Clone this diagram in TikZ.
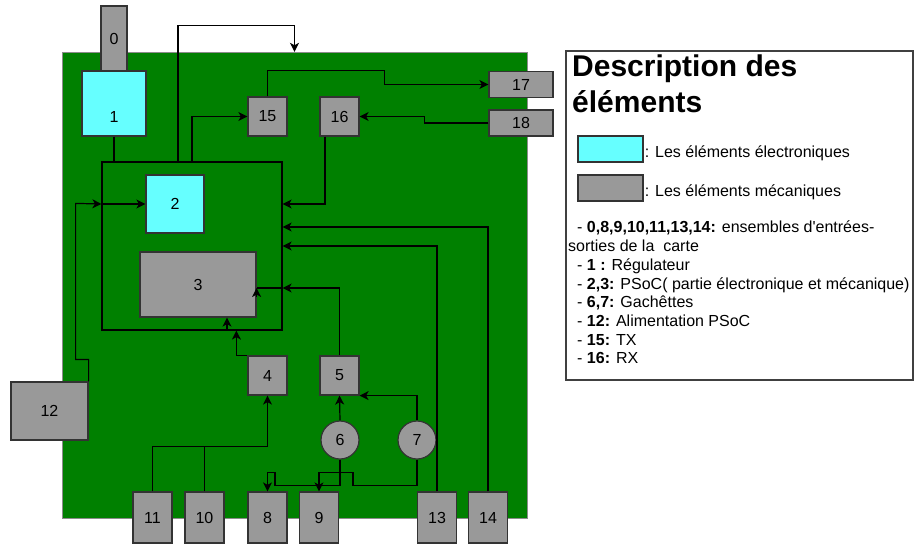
\documentclass[tikz,border=0pt]{standalone}
\usepackage{fontspec}
\setmainfont{Liberation Sans}
\usetikzlibrary{positioning,arrows.meta,shapes.geometric}
\definecolor{boardgreen}{HTML}{008000}
\definecolor{eleccyan}{HTML}{66FFFF}
\definecolor{mecagray}{HTML}{999999}
\tikzset{
  meca/.style  ={rectangle, draw=black!80, fill=mecagray, line width=1.2pt,
                 inner sep=0pt, font=\fontsize{16}{19}\selectfont},
  elec/.style  ={meca, fill=eleccyan},
  trig/.style  ={meca, circle, minimum size=38pt},
  flow/.style  ={-{Stealth[length=9pt,width=9pt,inset=2.5pt]}, line width=1.2pt},
  wire/.style  ={line width=1.2pt},
  legtxt/.style={font=\fontsize{16}{18.7}\selectfont, inner sep=0pt, align=left}
}

\begin{document}
\begin{tikzpicture}[x=1pt,y=-1pt]
\useasboundingbox (0,0) rectangle (914,544);
%% board and legend frame
\node[rectangle, draw=black!45, fill=boardgreen, minimum width=465pt,
      minimum height=466pt] (board) at (294.5,285) {};
\node[rectangle, draw=black!75, line width=1.2pt, minimum width=347pt,
      minimum height=329pt] (legend) at (739.5,215.5) {};

%% elements of the card
\node[meca, minimum width=26pt, minimum height=65pt] (b0)  at (114,38.5)    {0};
\node[elec, minimum width=64pt, minimum height=65pt, text height=38pt]
      (b1) at (114,103.5) {1};
\node[meca, minimum width=39pt, minimum height=39pt] (b15) at (267.5,116.5) {15};
\node[meca, minimum width=39pt, minimum height=39pt] (b16) at (339.5,116.5) {16};
\node[meca, minimum width=64pt, minimum height=26pt] (b17) at (521,84.5)    {17};
\node[meca, minimum width=64pt, minimum height=26pt] (b18) at (521,123)     {18};
\node[draw=black, line width=1.2pt, minimum width=180pt, minimum height=168pt]
      (psoc) at (192,246) {};
\node[elec, minimum width=58pt, minimum height=58pt] (b2)  at (175,204)     {2};
\node[meca, minimum width=116pt, minimum height=65pt] (b3) at (198,284.5)   {3};
\node[meca, minimum width=39pt, minimum height=39pt] (b4)  at (267.5,375.5) {4};
\node[meca, minimum width=39pt, minimum height=39pt] (b5)  at (339.5,375.5) {5};
\node[trig] (c6) at (340,440) {6};
\node[trig] (c7) at (417,440) {7};
\node[meca, minimum width=77pt, minimum height=58pt] (b12) at (49.5,411)    {12};
\node[meca, minimum width=39pt, minimum height=51pt] (b11) at (152.5,517.5) {11};
\node[meca, minimum width=39pt, minimum height=51pt] (b10) at (204.5,517.5) {10};
\node[meca, minimum width=39pt, minimum height=51pt] (b8)  at (267.5,517.5) {8};
\node[meca, minimum width=39pt, minimum height=51pt] (b9)  at (319,517.5)   {9};
\node[meca, minimum width=39pt, minimum height=51pt] (b13) at (437,517.5)   {13};
\node[meca, minimum width=39pt, minimum height=51pt] (b14) at (488,517.5)   {14};

%% legend
\node[legtxt, anchor=north west, font=\fontsize{30}{36}\selectfont\bfseries]
      (title) at (572,55) {Description des\\éléments};
\node[elec, minimum width=65pt, minimum height=26pt] (swelec) at (610.5,149) {};
\node[meca, minimum width=65pt, minimum height=26pt] (swmeca) at (610.5,188) {};
\node[legtxt, right=1pt of swelec, yshift=-4pt] (telec) {: Les éléments électroniques};
\node[legtxt, right=1pt of swmeca, yshift=-4pt] (tmeca) {: Les éléments mécaniques};
\node[legtxt, anchor=north west] (list) at (568,221) {%
  \hspace*{9pt}- \textbf{0,8,9,10,11,13,14:} ensembles d\textquotesingle entrées-\\
  sorties de la\ \ carte\\
  \hspace*{9pt}- \textbf{1 :} Régulateur\\
  \hspace*{9pt}- \textbf{2,3:} PSoC( partie électronique et mécanique)\\
  \hspace*{9pt}- \textbf{6,7:} Gachêttes\\
  \hspace*{9pt}- \textbf{12:} Alimentation PSoC\\
  \hspace*{9pt}- \textbf{15:} TX\\
  \hspace*{9pt}- \textbf{16:} RX};

%% connections
\draw[wire] (b1.south) -- (b1.south |- psoc.north);
\draw[flow] ([xshift=-14pt]psoc.north) |- ++(116.5,-136) -- (board.north);
\draw[flow] (psoc.north) |- (b15.west);
\draw[flow] (b15.north) |- ++(117,-26) |- (b17.west);
\draw[flow] (b18.west) -- ++(-64,0) |- (b16.east);
\draw[flow] ([xshift=-14.5pt]b16.south) |- (psoc.east |- b2.center);
\draw[flow] (b14.north) |- ([yshift=19pt]psoc.east);
\draw[flow] (b13.north) |- (psoc.east);
\draw[flow] (b12.north east) -- ++(0,-22) -| ++(-13,-156) -- (psoc.west |- b2.west);
\draw[flow] (psoc.west |- b2.west) -- (b2.west);
\coordinate (in3) at ([yshift=-42pt]psoc.east);
\coordinate (at3) at (in3 -| b3.east);
\draw[flow] (b5.north) |- (in3);
\draw[wire] (in3) -- (at3);
\draw[flow] ([yshift=-9pt]at3) -- (at3);
\draw[flow] (b4.north west) -- ++(-11,0) coordinate (k4) -- (k4 |- psoc.south);
\coordinate (bt3) at ([xshift=29pt]b3.south);
\draw[flow] (bt3 |- psoc.south) -- (bt3);
\draw[flow] (c6.north) -- (b5.south);
\draw[flow] (c7.north) |- (b5.south east);
\draw[flow] (b11.north) -- ++(0,-45) -| (b4.south);
\draw[wire] (b10.north) -- ++(0,-45);
\draw[flow] (c6.south) -- ++(0,26) -- ++(-65,0) -- ++(0,-13) -| (b8.north);
\draw[flow] (c7.south) -- ++(0,26) -- ++(-64,0) -- ++(0,-13) -| (b9.north);
\end{tikzpicture}
\end{document}
